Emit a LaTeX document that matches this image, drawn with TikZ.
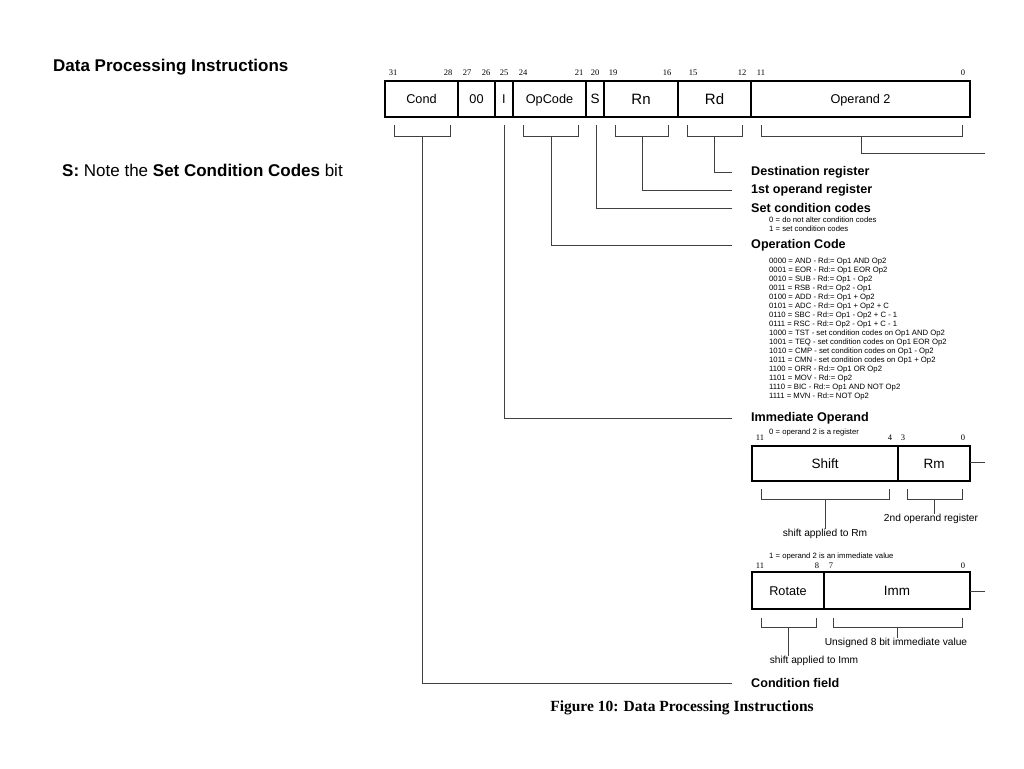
\documentclass[tikz,border=0pt]{standalone}
\usepackage{fontspec}
\setmainfont{Liberation Sans}
\newfontfamily\serifnum{Liberation Serif}
\begin{document}
\begin{tikzpicture}[x=1pt,y=-1pt,
  field/.style={draw, line width=1.7pt, inner sep=0pt, outer sep=0pt, text height=9.1pt, text depth=0pt, font=\fontsize{12.7}{15}\selectfont},
  bigfield/.style={field, text height=10.7pt, font=\fontsize{15}{17}\selectfont},
  midfield/.style={field, text height=9.7pt, font=\fontsize{13.5}{16}\selectfont},
  bitn/.style={font=\serifnum\fontsize{8.5}{10}\selectfont, inner sep=0pt},
  conn/.style={draw=black!75, line width=0.9pt},
  head/.style={font=\bfseries\fontsize{12.6}{15}\selectfont, anchor=west, inner sep=0pt},
  small/.style={font=\fontsize{7.7}{9.05}\selectfont, anchor=west, inner sep=0pt, align=left},
  note/.style={font=\fontsize{10.2}{12}\selectfont, inner sep=0pt},
  big/.style={font=\fontsize{17}{20}\selectfont, anchor=west, inner sep=0pt}
]
\useasboundingbox (0,0) rectangle (1024,768);

% left texts
\node[big] (title) at (53,67) {\bfseries Data Processing Instructions};
\node[big] (snote) at (62,170) {\bfseries S:\mdseries{} Note the \bfseries Set Condition Codes\mdseries{} bit};

% main instruction word
\node[field, minimum width=73, minimum height=36] (cond) at (421.5,99) {Cond};
\node[field, minimum width=37, minimum height=36] (zz) at (476.5,99) {00};
\node[field, minimum width=18, minimum height=36] (ibit) at (504,99) {I};
\node[field, minimum width=73, minimum height=36] (opc) at (549.5,99) {OpCode};
\node[midfield, minimum width=18, minimum height=36] (sbit) at (595,99) {S};
\node[bigfield, minimum width=74, minimum height=36] (rn) at (641,99) {Rn};
\node[bigfield, minimum width=73, minimum height=36] (rd) at (714.5,99) {Rd};
\node[field, minimum width=219, minimum height=36] (op2) at (860.5,99) {Operand 2};

% bit numbers
\foreach \n/\x in {31/393,28/448,27/467,26/486,25/504,24/523,21/579,20/595,19/613,16/667,15/693,12/742,11/761,0/963}
  \node[bitn] (b\n) at (\x,73) {\n};

% labels
\node[head] (dest) at (751,172) {Destination register};
\node[head] (first) at (751,190) {1st operand register};
\node[head] (setcc) at (751,208) {Set condition codes};
\node[small] (setccl) at (769,224.5) {0 = do not alter condition codes\\1 = set condition codes};
\node[head] (opcl) at (751,245) {Operation Code};
\node[small] (oplist) at (769,329) {0000 = AND - Rd:= Op1 AND Op2\\
0001 = EOR - Rd:= Op1 EOR Op2\\
0010 = SUB - Rd:= Op1 - Op2\\
0011 = RSB - Rd:= Op2 - Op1\\
0100 = ADD - Rd:= Op1 + Op2\\
0101 = ADC - Rd:= Op1 + Op2 + C\\
0110 = SBC - Rd:= Op1 - Op2 + C - 1\\
0111 = RSC - Rd:= Op2 - Op1 + C - 1\\
1000 = TST - set condition codes on Op1 AND Op2\\
1001 = TEQ - set condition codes on Op1 EOR Op2\\
1010 = CMP - set condition codes on Op1 - Op2\\
1011 = CMN - set condition codes on Op1 + Op2\\
1100 = ORR - Rd:= Op1 OR Op2\\
1101 = MOV - Rd:= Op2\\
1110 = BIC - Rd:= Op1 AND NOT Op2\\
1111 = MVN - Rd:= NOT Op2};
\node[head] (immop) at (751,418) {Immediate Operand};
\node[small] (imm0) at (769,433) {0 = operand 2 is a register};
\node[head] (condf) at (751,683) {Condition field};

% brackets and connectors of main word
\coordinate (condst) at (422,136);
\coordinate (opcst) at (551,136);
\coordinate (rnst) at (642,136);
\coordinate (rdst) at (714,136);
\coordinate (op2st) at (861,136);
\coordinate (op2end) at (985,153);
\coordinate (ist) at (504,125);
\coordinate (sst) at (596,125);
\draw[conn] (394,125) -- (394,136) -- (450,136) -- (450,125);
\draw[conn] (523,125) -- (523,136) -- (578,136) -- (578,125);
\draw[conn] (615,125) -- (615,136) -- (668,136) -- (668,125);
\draw[conn] (687,125) -- (687,136) -- (742,136) -- (742,125);
\draw[conn] (761,125) -- (761,136) -- (962,136) -- (962,125);
\draw[conn] (rdst) |- ([xshift=-19pt]dest.west);
\draw[conn] (rnst) |- ([xshift=-19pt]first.west);
\draw[conn] (sst) |- ([xshift=-19pt]setcc.west);
\draw[conn] (opcst) |- ([xshift=-19pt]opcl.west);
\draw[conn] (ist) |- ([xshift=-19pt]immop.west);
\draw[conn] (condst) |- ([xshift=-19pt]condf.west);
\draw[conn] (op2st) |- (op2end);

% register form of operand 2
\node[midfield, minimum width=146, minimum height=35] (shift) at (825,463.5) {Shift};
\node[midfield, minimum width=72, minimum height=35] (rm) at (934,463.5) {Rm};
\foreach \n/\x/\k in {11/760/a,4/890/b,3/903/c,0/963/d}
  \node[bitn] (rb\k) at (\x,438) {\n};
\coordinate (rmend) at (985,462);
\draw[conn] (rm.east |- rmend) -- (rmend);
\node[note] (shiftl) at (825,534) {shift applied to Rm};
\node[note] (rml) at (931,519) {2nd operand register};
\coordinate (shiftst) at (825,499);
\coordinate (rmst) at (934,499);
\draw[conn] (761,489) -- (761,499) -- (889,499) -- (889,489);
\draw[conn] (907,489) -- (907,499) -- (962,499) -- (962,489);
\draw[conn] (shiftst) -- (shiftst |- shiftl.north);
\draw[conn] (rmst) -- (rmst |- rml.north);

% immediate form of operand 2
\node[small] (imm1) at (769,557) {1 = operand 2 is an immediate value};
\node[field, minimum width=72, minimum height=37] (rot) at (788,590.5) {Rotate};
\node[midfield, minimum width=146, minimum height=37] (imm) at (897,590.5) {Imm};
\foreach \n/\x/\k in {11/760/a,8/817/b,7/831/c,0/963/d}
  \node[bitn] (ib\k) at (\x,566) {\n};
\coordinate (immend) at (985,591);
\draw[conn] (imm.east |- immend) -- (immend);
\node[note] (rotl) at (814,661) {shift applied to Imm};
\node[note] (imml) at (896,643) {Unsigned 8 bit immediate value};
\coordinate (rotst) at (788,627);
\coordinate (immst) at (897,627);
\draw[conn] (761,618) -- (761,627) -- (816,627) -- (816,618);
\draw[conn] (833,618) -- (833,627) -- (962,627) -- (962,618);
\draw[conn] (rotst) -- (rotst |- rotl.north);
\draw[conn] (immst) -- (immst |- imml.north);

% caption
\node[font=\serifnum\bfseries\fontsize{15.5}{18}\selectfont, inner sep=0pt] (cap) at (682,708) {Figure 10: Data Processing Instructions};
\end{tikzpicture}
\end{document}
